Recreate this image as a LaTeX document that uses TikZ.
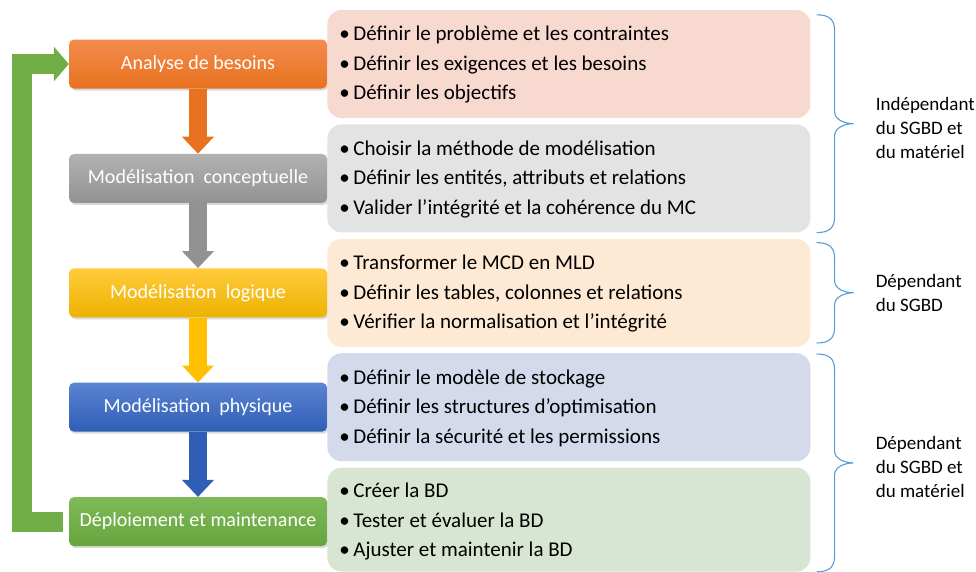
\documentclass[tikz,border=0pt]{standalone}
\usepackage{fontspec}
\setmainfont{Carlito}
\usetikzlibrary{calc, positioning}
\usetikzlibrary{arrows.meta}
\usetikzlibrary{shadows}

\definecolor{orangeT}{HTML}{F38C4C}
\definecolor{orangeB}{HTML}{E8721F}
\definecolor{grayT}{HTML}{B2B2B2}
\definecolor{grayB}{HTML}{929292}
\definecolor{yellowT}{HTML}{FFCB3C}
\definecolor{yellowB}{HTML}{EDB200}
\definecolor{yellowA}{HTML}{FFC000}
\definecolor{blueT}{HTML}{5B84D1}
\definecolor{blueB}{HTML}{2F5EB6}
\definecolor{greenT}{HTML}{7EBA58}
\definecolor{greenB}{HTML}{66A53E}
\definecolor{feedgreen}{HTML}{70AD47}
\definecolor{detpink}{HTML}{F8D9D0}
\definecolor{detgray}{HTML}{E3E3E3}
\definecolor{detpeach}{HTML}{FDE9D4}
\definecolor{detblue}{HTML}{D4DAEC}
\definecolor{detgreen}{HTML}{D9E5D3}
\definecolor{braceblue}{HTML}{5B9BD5}

\tikzset{
  phase/.style={rounded corners=5pt, minimum width=258pt, minimum height=49pt,
    text=white, font=\fontsize{20}{24}\selectfont,
    drop shadow={shadow xshift=1.5pt, shadow yshift=-2pt, opacity=.3}},
  detail/.style={rounded corners=14pt, minimum width=483pt, minimum height=108pt, inner sep=0pt},
  bullets/.style={align=left, font=\fontsize{21}{29.5}\selectfont, inner sep=0pt},
  flowarrow/.style={line width=18pt, -{Triangle[length=17pt, width=31pt]}},
  feedback/.style={line width=20pt, draw=feedgreen, -{Triangle[length=15pt, width=34pt]}},
  sidebrace/.style={draw=braceblue, line width=1.1pt},
  sidelabel/.style={align=left, font=\fontsize{19}{24}\selectfont, inner sep=0pt}
}

\newcommand{\bul}{\makebox[14pt][l]{\textbullet}}

% curly brace: top, bottom, name of the tip
\newcommand{\sgbdbrace}[3]{%
  \draw[sidebrace] let \p1=(#1), \p2=(#2), \p3=($(#1)!.5!(#2)$) in
    (\x1,\y1) .. controls (\x1+13pt,\y1) and (\x1+18pt,\y1-5pt) .. (\x1+18pt,\y1-16pt)
    -- (\x1+18pt,\y3+12pt) .. controls (\x1+18pt,\y3+4pt) and (\x1+28pt,\y3) .. (\x1+37pt,\y3) coordinate (#3)
    .. controls (\x1+28pt,\y3) and (\x1+18pt,\y3-4pt) .. (\x1+18pt,\y3-12pt)
    -- (\x1+18pt,\y2+16pt) .. controls (\x1+18pt,\y2+5pt) and (\x1+13pt,\y2) .. (\x1,\y2);
}

\begin{document}
\begin{tikzpicture}[x=1pt, y=-1pt, node distance=65pt]
\useasboundingbox (0,0) rectangle (976,571);

% phases
\node[phase, top color=orangeT, bottom color=orangeB] (analyse) at (198,64) {Analyse de besoins};
\node[phase, top color=grayT, bottom color=grayB, below=of analyse] (concept) {Modélisation\ \ conceptuelle};
\node[phase, top color=yellowT, bottom color=yellowB, below=of concept] (logique) {Modélisation\ \ logique};
\node[phase, top color=blueT, bottom color=blueB, below=of logique] (physique) {Modélisation\ \ physique};
\node[phase, top color=greenT, bottom color=greenB, below=of physique] (deploy) {Déploiement et maintenance};

% details
\node[detail, fill=detpink, right=0pt of analyse] (detA) {};
\node[detail, fill=detgray, right=0pt of concept] (detB) {};
\node[detail, fill=detpeach, right=0pt of logique] (detC) {};
\node[detail, fill=detblue, right=0pt of physique] (detD) {};
\node[detail, fill=detgreen, right=0pt of deploy, minimum height=104pt, yshift=2pt] (detE) {};

\node[bullets, right=12pt of detA.west, yshift=-1pt] (txtA)
  {\bul Définir le problème et les contraintes\\\bul Définir les exigences et les besoins\\\bul Définir les objectifs};
\node[bullets, right=12pt of detB.west, yshift=-1pt] (txtB)
  {\bul Choisir la méthode de modélisation\\\bul Définir les entités, attributs et relations\\\bul Valider l’intégrité et la cohérence du MC};
\node[bullets, right=12pt of detC.west, yshift=-1pt] (txtC)
  {\bul Transformer le MCD en MLD\\\bul Définir les tables, colonnes et relations\\\bul Vérifier la normalisation et l’intégrité};
\node[bullets, right=12pt of detD.west, yshift=-1pt] (txtD)
  {\bul Définir le modèle de stockage\\\bul Définir les structures d’optimisation\\\bul Définir la sécurité et les permissions};
\node[bullets, right=12pt of detE.west, yshift=-2pt] (txtE)
  {\bul Créer la BD\\\bul Tester et évaluer la BD\\\bul Ajuster et maintenir la BD};

% arrows
\draw[flowarrow, orangeB] (analyse.south) -- (concept.north);
\draw[flowarrow, grayB] (concept.south) -- (logique.north);
\draw[flowarrow, yellowA] (logique.south) -- (physique.north);
\draw[flowarrow, blueB] (physique.south) -- (deploy.north);
\draw[feedback] ([xshift=-6pt]deploy.west) -- ++(-41pt,0) |- (analyse.west);

% braces
\coordinate (bAt) at ([shift={(6pt,-5pt)}]detA.north east);
\coordinate (bAb) at ([shift={(6pt,0pt)}]detB.south east);
\coordinate (bCt) at ([shift={(6pt,-4pt)}]detC.north east);
\coordinate (bCb) at ([shift={(6pt,4pt)}]detC.south east);
\coordinate (bDt) at ([shift={(6pt,-1pt)}]detD.north east);
\coordinate (bEb) at ([shift={(6pt,0pt)}]detE.south east);
\sgbdbrace{bAt}{bAb}{tipA}
\sgbdbrace{bCt}{bCb}{tipC}
\sgbdbrace{bDt}{bEb}{tipD}

\node[sidelabel, right=22pt of tipA, yshift=-4pt] (labA) {Indépendant\\du SGBD et\\du matériel};
\node[sidelabel, right=22pt of tipC] (labC) {Dépendant\\du SGBD};
\node[sidelabel, right=22pt of tipD, yshift=-4pt] (labD) {Dépendant\\du SGBD et\\du matériel};
\end{tikzpicture}
\end{document}
